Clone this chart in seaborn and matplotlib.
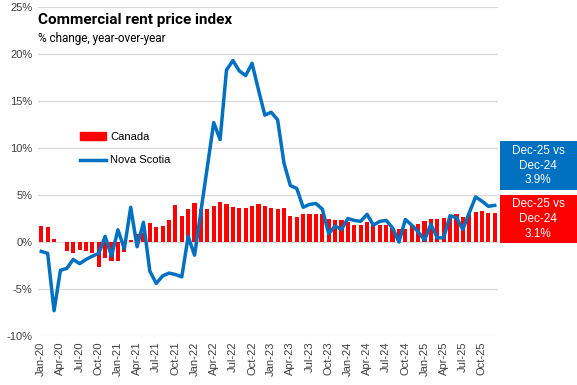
import numpy as np
import pandas as pd
import matplotlib
matplotlib.use("Agg")
import matplotlib.pyplot as plt
from matplotlib.patches import Patch, Rectangle
from matplotlib.lines import Line2D
import seaborn as sns

# Data: year-over-year % change, Jan-20 .. Dec-25
months = pd.date_range("2020-01-01", "2025-12-01", freq="MS").strftime("%b-%y").tolist()

canada = [1.7, 1.6, 0.3, 0.0, -1.0, -1.2, -0.85, -0.9, -1.2, -2.7, -1.7, -2.0,
          -2.0, -1.1, 0.2, 0.9, 1.0, 2.0, 1.6, 1.7, 2.3, 3.9, 2.8, 3.5,
          4.2, 3.5, 3.5, 3.8, 4.3, 4.0, 3.7, 3.6, 3.6, 3.8, 4.0, 3.8,
          3.6, 3.5, 3.6, 2.8, 2.7, 3.0, 3.0, 3.0, 2.95, 2.5, 2.3, 2.3,
          2.1, 1.8, 1.8, 2.1, 1.8, 1.8, 1.8, 1.5, 1.4, 1.4, 1.8, 1.9,
          2.2, 2.5, 2.5, 2.6, 2.7, 2.95, 2.7, 2.95, 3.15, 3.3, 3.05, 3.1]

nova_scotia = [-1.0, -1.2, -7.3, -3.0, -2.8, -1.85, -2.3, -1.85, -1.5, -1.2, 0.6, -1.5,
               1.3, -0.7, 3.7, -0.5, 2.1, -3.1, -4.4, -3.6, -3.3, -3.45, -3.7, 0.6,
               -1.4, 3.3, 8.0, 12.7, 10.9, 18.3, 19.3, 18.2, 17.7, 19.0, 16.2, 13.5,
               13.8, 13.0, 8.4, 6.0, 5.7, 3.7, 4.0, 4.1, 3.5, 0.9, 1.7, 1.35,
               2.5, 2.3, 2.2, 2.95, 1.8, 2.2, 2.3, 1.5, 0.0, 2.4, 1.8, 1.1,
               0.2, 1.9, 0.45, 0.45, 2.8, 2.6, 1.35, 3.1, 4.8, 4.35, 3.8, 3.9]

red = "#FF0000"
blue = "#0070C0"

fig = plt.figure(figsize=(5.77, 3.85), dpi=100)
ax = fig.add_axes([0.066, 0.127, 0.797, 0.855])

sns.barplot(x=months, y=canada, color=red, width=0.65, saturation=1, ax=ax)
sns.lineplot(x=np.arange(len(months)), y=nova_scotia, color=blue, linewidth=2.5, ax=ax)

ax.set_xlim(-0.5, len(months) - 0.5)
ax.set_ylim(-10, 25)
ax.set_yticks(range(-10, 30, 5))
ax.set_yticklabels([f"{v}%" for v in range(-10, 30, 5)], fontsize=8, color="#404040",
                   family="Liberation Sans")
ax.set_xticks(range(0, len(months), 3))
ax.set_xticklabels(months[::3], rotation=90, fontsize=8, color="#404040",
                   family="Liberation Sans")
ax.tick_params(length=0, pad=4)
ax.grid(axis="y", color="#d9d9d9", linewidth=0.9)
ax.set_axisbelow(True)
for s in ax.spines.values():
    s.set_visible(False)

ax.text(0.0, 0.96, "Commercial rent price index", transform=ax.transAxes,
        fontsize=11, fontweight="bold", family="Roboto", va="center")
ax.text(0.0, 0.905, "% change, year-over-year", transform=ax.transAxes,
        fontsize=8.5, family="Roboto", va="center")

handles = [Patch(color=red, label="Canada"),
           Line2D([0], [0], color=blue, lw=2.5, label="Nova Scotia")]
ax.legend(handles=handles, loc="upper left", bbox_to_anchor=(0.07, 0.65), frameon=False,
          prop={"family": "Liberation Sans", "size": 8}, handlelength=2.3,
          labelspacing=1.2, handletextpad=0.4)

# callout boxes on the right
fig.patches.append(Rectangle((0.8666, 0.5065), 0.1334, 0.1273, transform=fig.transFigure,
                             fc=blue, ec="none"))
fig.patches.append(Rectangle((0.8666, 0.3688), 0.1334, 0.1247, transform=fig.transFigure,
                             fc=red, ec="none"))
fig.text(0.933, 0.570, "Dec-25 vs\nDec-24\n3.9%", ha="center", va="center", color="white",
         fontsize=8.5, family="Liberation Sans", linespacing=1.3)
fig.text(0.933, 0.431, "Dec-25 vs\nDec-24\n3.1%", ha="center", va="center", color="white",
         fontsize=8.5, family="Liberation Sans", linespacing=1.3)

fig.savefig("out.png", dpi=100)
